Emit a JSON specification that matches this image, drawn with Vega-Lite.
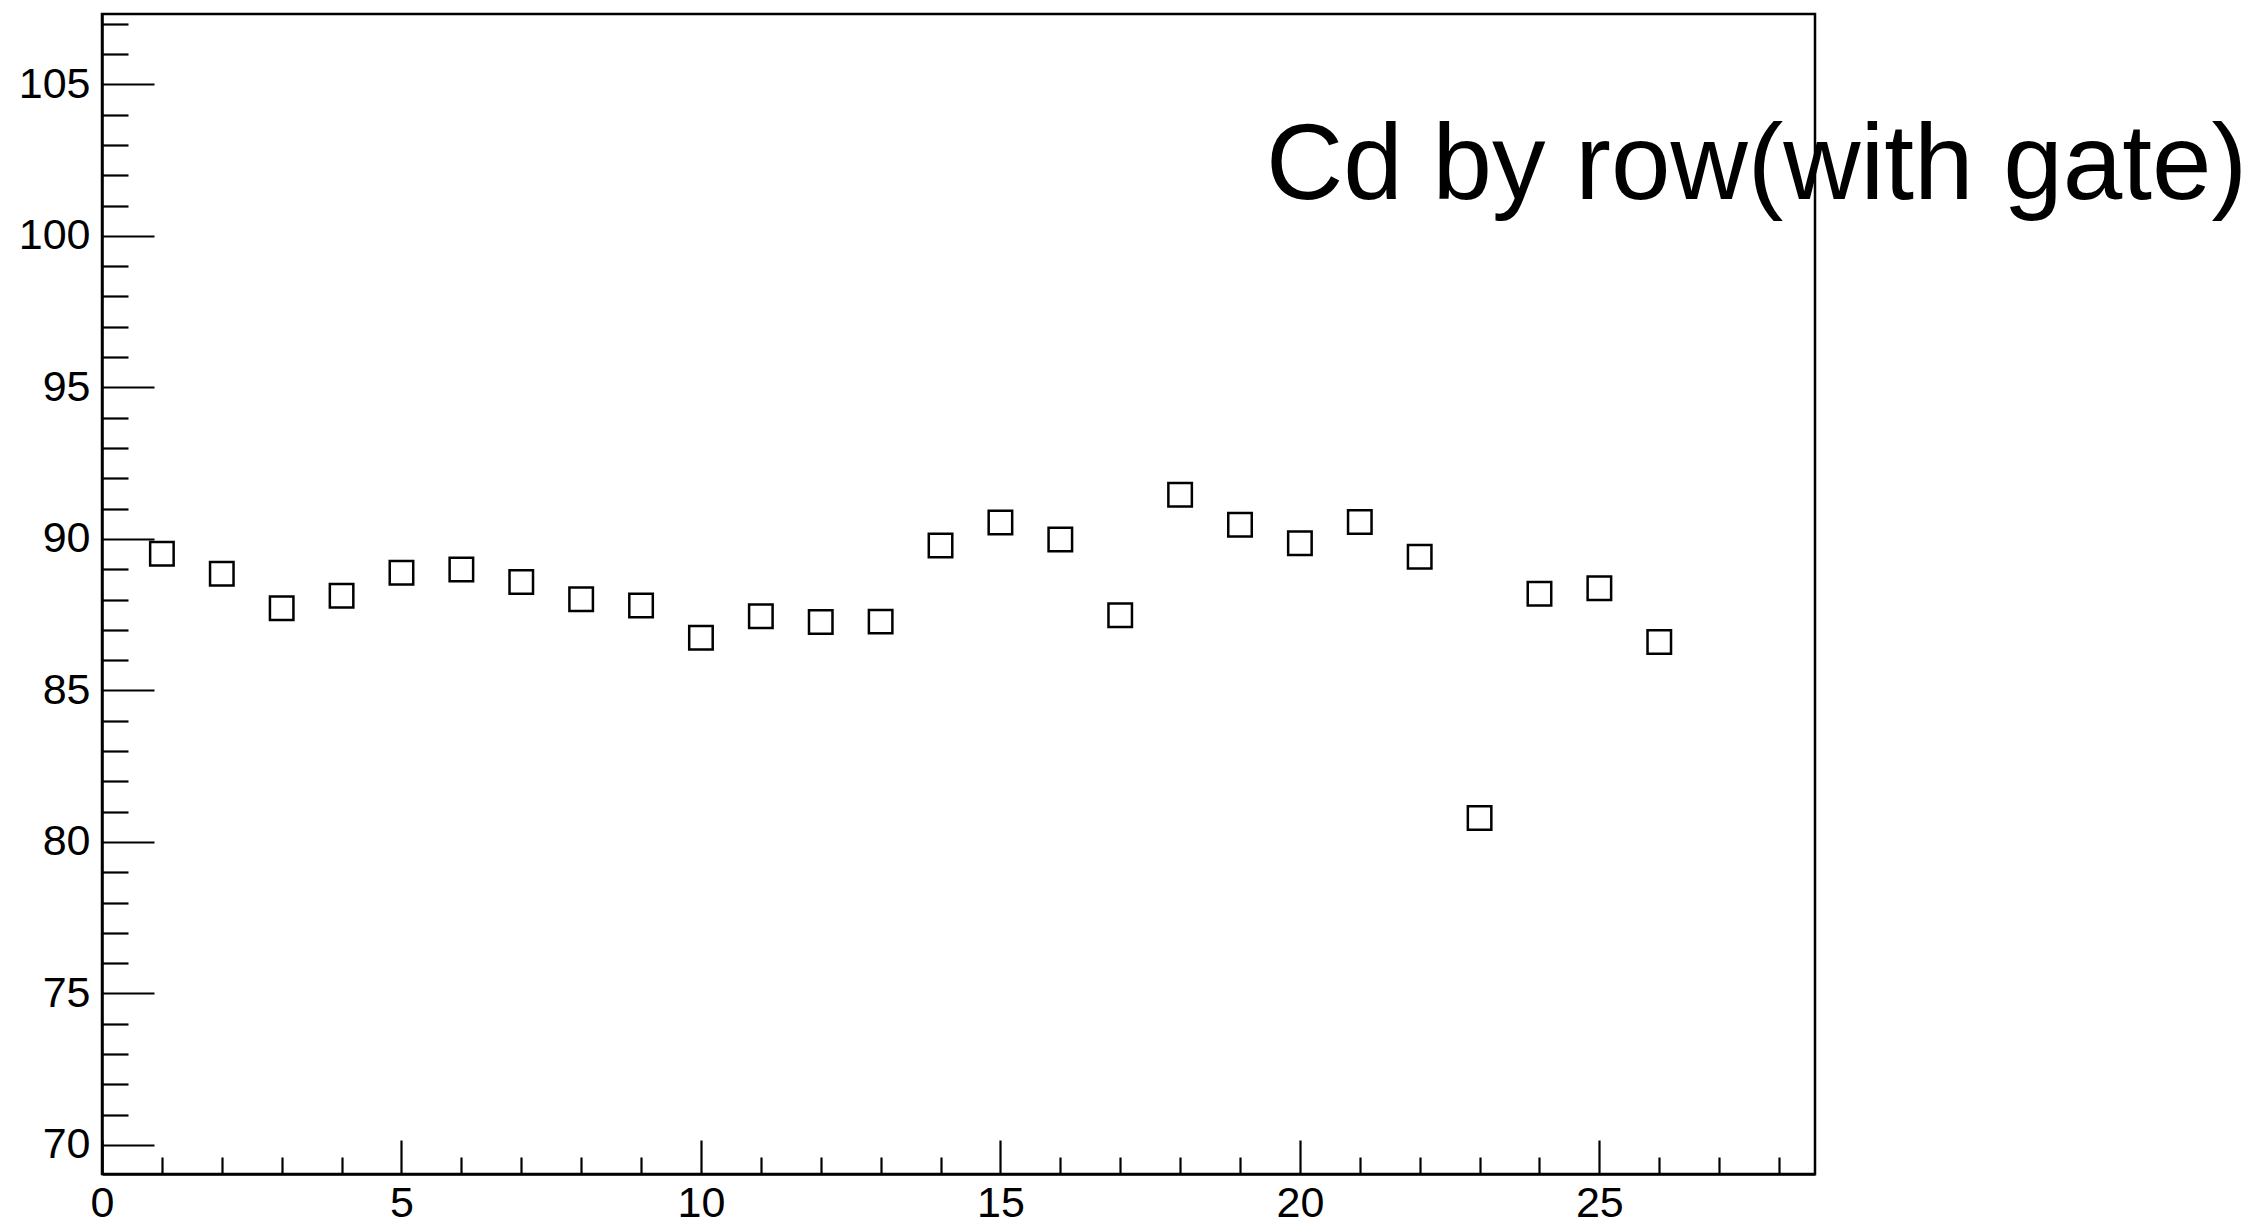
{
  "$schema": "https://vega.github.io/schema/vega-lite/v6.json",
  "width": 1713,
  "height": 1160,
  "autosize": {"type": "none"},
  "padding": {"left": 102, "top": 14, "right": 448, "bottom": 53},
  "background": "white",
  "config": {
    "view": {"stroke": "black", "strokeWidth": 2.5},
    "font": "Liberation Sans"
  },
  "title": {
    "text": "Cd by row(with gate)",
    "font": "Liberation Sans",
    "fontSize": 107,
    "fontWeight": "normal",
    "color": "black",
    "anchor": "start",
    "frame": "group",
    "orient": "top",
    "baseline": "alphabetic",
    "offset": 0,
    "dx": 1164,
    "dy": 303,
    "limit": 3000
  },
  "data": {
    "values": [
      {"row": 1, "Cd": 89.51},
      {"row": 2, "Cd": 88.85},
      {"row": 3, "Cd": 87.71},
      {"row": 4, "Cd": 88.12},
      {"row": 5, "Cd": 88.88},
      {"row": 6, "Cd": 88.99},
      {"row": 7, "Cd": 88.58},
      {"row": 8, "Cd": 88.01},
      {"row": 9, "Cd": 87.80},
      {"row": 10, "Cd": 86.74},
      {"row": 11, "Cd": 87.45},
      {"row": 12, "Cd": 87.26},
      {"row": 13, "Cd": 87.27},
      {"row": 14, "Cd": 89.78},
      {"row": 15, "Cd": 90.54},
      {"row": 16, "Cd": 89.98},
      {"row": 17, "Cd": 87.48},
      {"row": 18, "Cd": 91.46},
      {"row": 19, "Cd": 90.47},
      {"row": 20, "Cd": 89.86},
      {"row": 21, "Cd": 90.56},
      {"row": 22, "Cd": 89.41},
      {"row": 23, "Cd": 80.79},
      {"row": 24, "Cd": 88.19},
      {"row": 25, "Cd": 88.37},
      {"row": 26, "Cd": 86.60}
    ]
  },
  "mark": {
    "type": "point",
    "shape": "square",
    "filled": false,
    "stroke": "black",
    "strokeWidth": 2.5,
    "size": 552,
    "opacity": 1
  },
  "encoding": {
    "x": {
      "field": "row",
      "type": "quantitative",
      "scale": {"domain": [0, 28.6], "nice": false, "zero": false},
      "axis": {
        "title": null,
        "grid": false,
        "values": [0,1,2,3,4,5,6,7,8,9,10,11,12,13,14,15,16,17,18,19,20,21,22,23,24,25,26,27,28],
        "tickSize": {"condition": {"test": "datum.value % 5 === 0", "value": -34}, "value": -17},
        "tickColor": "black",
        "tickWidth": 2.2,
        "domainColor": "black",
        "domainWidth": 2.5,
        "labelExpr": "datum.value % 5 === 0 ? datum.label : ''",
        "labelFont": "Liberation Sans",
        "labelFontSize": 43,
        "labelColor": "black",
        "labelPadding": 42,
        "labelFlush": false,
        "labelOverlap": false,
        "labelBaseline": "top"
      }
    },
    "y": {
      "field": "Cd",
      "type": "quantitative",
      "scale": {"domain": [69.043, 107.32], "nice": false, "zero": false},
      "axis": {
        "title": null,
        "grid": false,
        "values": [70,71,72,73,74,75,76,77,78,79,80,81,82,83,84,85,86,87,88,89,90,91,92,93,94,95,96,97,98,99,100,101,102,103,104,105,106,107],
        "tickSize": {"condition": {"test": "datum.value % 5 === 0", "value": -52}, "value": -26},
        "tickColor": "black",
        "tickWidth": 2.2,
        "domainColor": "black",
        "domainWidth": 2.5,
        "labelExpr": "datum.value % 5 === 0 ? datum.label : ''",
        "labelFont": "Liberation Sans",
        "labelFontSize": 43,
        "labelColor": "black",
        "labelPadding": 64,
        "labelFlush": false,
        "labelOverlap": false
      }
    }
  }
}
